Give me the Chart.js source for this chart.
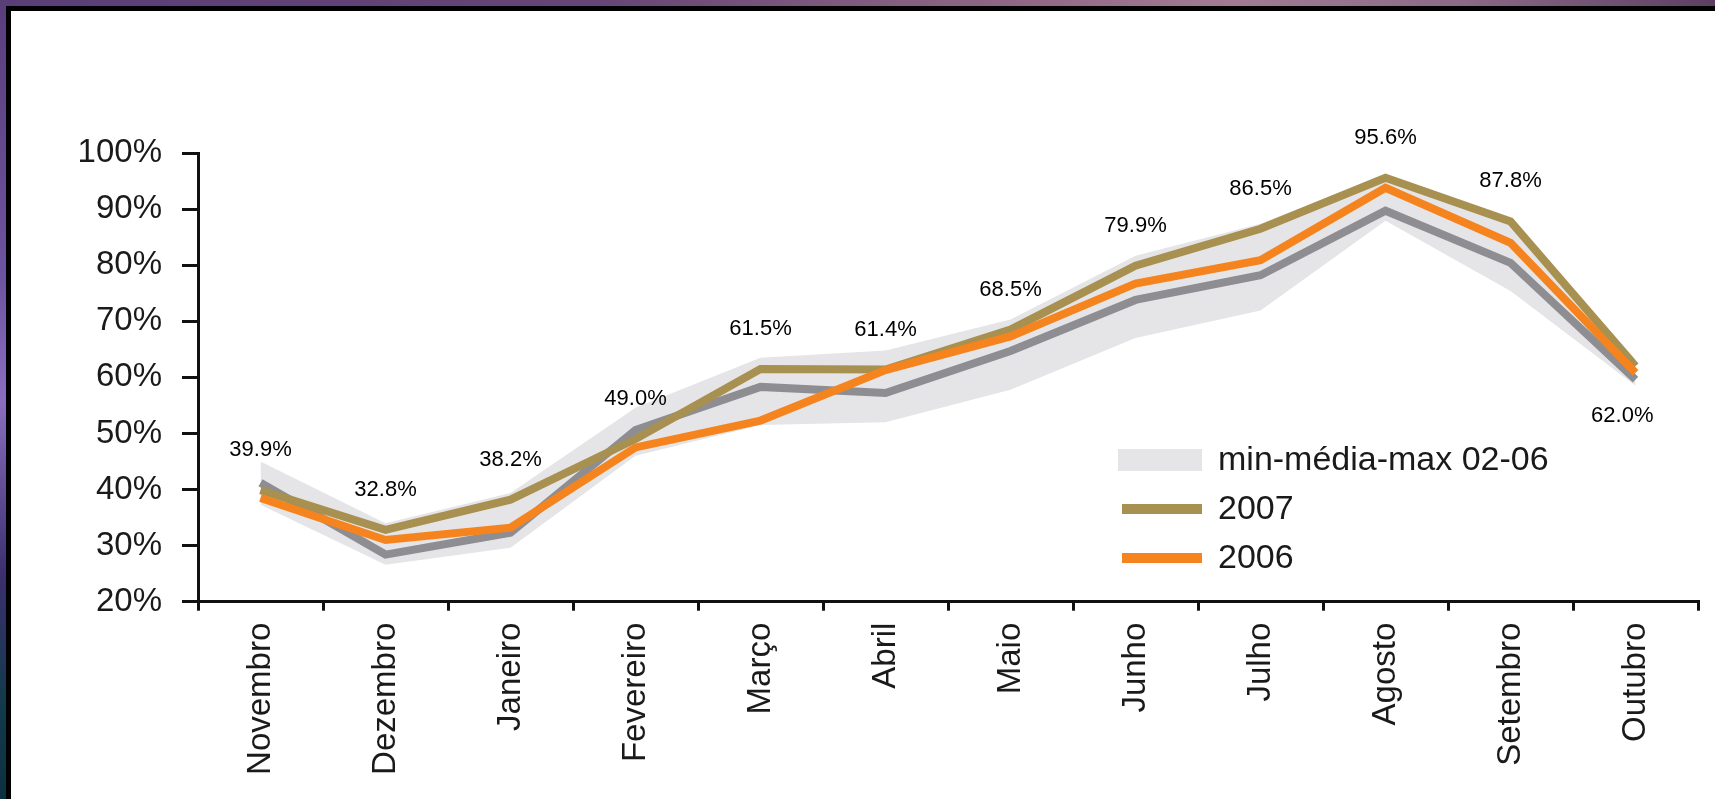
<!DOCTYPE html>
<html>
<head>
<meta charset="utf-8">
<script src="https://cdn.jsdelivr.net/npm/chart.js@4.4.1/dist/chart.umd.min.js"></script>
<style>
  html, body { margin:0; padding:0; }
  body { width:1715px; height:799px; overflow:hidden; position:relative;
    background: linear-gradient(to bottom, #5a3d7b 0%, #6d54a0 35%, #8a6fbf 50%, #3b2f6e 72%, #123a4c 88%, #0c3040 100%); }
  #topstrip { position:absolute; left:0; top:0; width:1715px; height:6px;
    background: linear-gradient(to right, #5a3e78 0%, #664676 35%, #8a6282 55%, #a27b93 72%, #8c6b88 85%, #5c3f62 100%); }
  #frame { position:absolute; left:6px; top:6px; right:0; bottom:0; background:#000; }
  #panel { position:absolute; left:11px; top:11px; right:0; bottom:0; background:#fff; }
  #c { position:absolute; left:0; top:0; }
</style>
</head>
<body>
<div id="topstrip"></div>
<div id="frame"></div>
<div id="panel"><canvas id="c" width="1704" height="788"></canvas></div>
<script>
const months = ['Novembro','Dezembro','Janeiro','Fevereiro','Março','Abril','Maio','Junho','Julho','Agosto','Setembro','Outubro'];
const yTicks = [20,30,40,50,60,70,80,90,100];
const values2007 = [39.9,32.8,38.2,49.0,61.5,61.4,68.5,79.9,86.5,95.6,87.8,62.0];
const values2006 = [38.5,31.0,33.2,47.5,52.3,61.3,67.3,76.7,80.9,93.8,84.0,60.8];
const avg0206   = [41.2,28.4,32.3,50.6,58.3,57.2,64.7,73.8,78.2,89.7,80.4,59.6];
const max0206   = [45.0,34.0,39.4,54.6,63.5,64.8,70.3,81.7,87.4,96.2,88.4,63.2];
const min0206   = [37.3,26.6,29.6,46.0,51.5,52.0,57.8,67.0,71.9,87.9,75.4,58.5];

const FONT = "'Liberation Sans', Arial, sans-serif";
const C_BAND = '#e5e5e8', C_AVG = '#8e8e92', C_2007 = '#a89050', C_2006 = '#f5841f';

const labelPlugin = {
  id: 'valueLabels',
  afterDatasetsDraw(chart) {
    const idx = chart.data.datasets.findIndex(d => d.label === '2007');
    const meta = chart.getDatasetMeta(idx);
    const ctx = chart.ctx;
    ctx.save();
    ctx.font = '22px ' + FONT;
    ctx.fillStyle = '#000';
    ctx.textBaseline = 'middle';
    const n = meta.data.length;
    meta.data.forEach((pt, i) => {
      const v = chart.data.datasets[idx].data[i];
      const last = (i === n - 1);
      ctx.textAlign = last ? 'right' : 'center';
      const x = last ? pt.x + 18 : pt.x;
      const y = last ? pt.y + 50 : pt.y - 40;
      ctx.fillText(v.toFixed(1) + '%', x, y);
    });
    ctx.restore();
  }
};

const legendPlugin = {
  id: 'insideLegend',
  afterDraw(chart) {
    const ctx = chart.ctx;
    const ds = chart.data.datasets;
    const items = [
      { text: ds[0].label, kind: 'box', color: C_BAND },
      { text: ds[3].label, kind: 'line', color: ds[3].borderColor },
      { text: ds[4].label, kind: 'line', color: ds[4].borderColor }
    ];
    const x0 = chart.chartArea.left + 920;
    const y0 = 449;
    const rowH = 49;
    ctx.save();
    ctx.font = '34px ' + FONT;
    ctx.textAlign = 'left';
    ctx.textBaseline = 'middle';
    items.forEach((it, i) => {
      const y = y0 + i * rowH;
      ctx.fillStyle = it.color;
      if (it.kind === 'box') ctx.fillRect(x0, y - 11, 84, 22);
      else ctx.fillRect(x0 + 4, y - 5, 80, 10);
      ctx.fillStyle = '#1a1a1a';
      ctx.fillText(it.text, x0 + 100, y + 1);
    });
    ctx.restore();
  }
};

new Chart(document.getElementById('c'), {
  type: 'line',
  data: {
    labels: months,
    datasets: [
      { label: 'min-média-max 02-06', data: max0206, borderWidth: 0, pointRadius: 0,
        backgroundColor: C_BAND, borderColor: C_BAND, fill: '+1', order: 4, tension: 0 },
      { label: 'min', data: min0206, borderWidth: 0, pointRadius: 0,
        backgroundColor: C_BAND, borderColor: C_BAND, fill: false, order: 5, tension: 0 },
      { label: 'média', data: avg0206, borderColor: C_AVG, borderWidth: 8, pointRadius: 0,
        fill: false, order: 3, tension: 0 },
      { label: '2007', data: values2007, borderColor: C_2007, borderWidth: 8, pointRadius: 0,
        fill: false, order: 2, tension: 0 },
      { label: '2006', data: values2006, borderColor: C_2006, borderWidth: 8, pointRadius: 0,
        fill: false, order: 1, tension: 0 }
    ]
  },
  options: {
    responsive: false,
    animation: false,
    devicePixelRatio: 1,
    layout: { padding: { top: 142, right: 17, left: 0, bottom: 0 } },
    plugins: { legend: { display: false }, tooltip: { enabled: false } },
    scales: {
      x: {
        offset: true,
        grid: { offset: true, drawOnChartArea: false, drawTicks: true, tickLength: 9, color: '#111', lineWidth: 3 },
        border: { display: true, color: '#111', width: 3 },
        ticks: { font: { family: FONT, size: 33 }, color: '#1a1a1a', maxRotation: 90, minRotation: 90, padding: 12, autoSkip: false },
        afterFit(s) { s.height = 788 - 590.7; }
      },
      y: {
        min: 20, max: 100,
        afterBuildTicks(s) { s.ticks = yTicks.map(v => ({ value: v })); },
        grid: { drawOnChartArea: false, drawTicks: true, tickLength: 16, color: '#111', lineWidth: 3 },
        border: { display: true, color: '#111', width: 3 },
        ticks: { font: { family: FONT, size: 33 }, color: '#1a1a1a', padding: 20,
          callback: v => v + '%' },
        afterFit(s) { s.width = 187; }
      }
    }
  },
  plugins: [labelPlugin, legendPlugin]
});
</script>
</body>
</html>
